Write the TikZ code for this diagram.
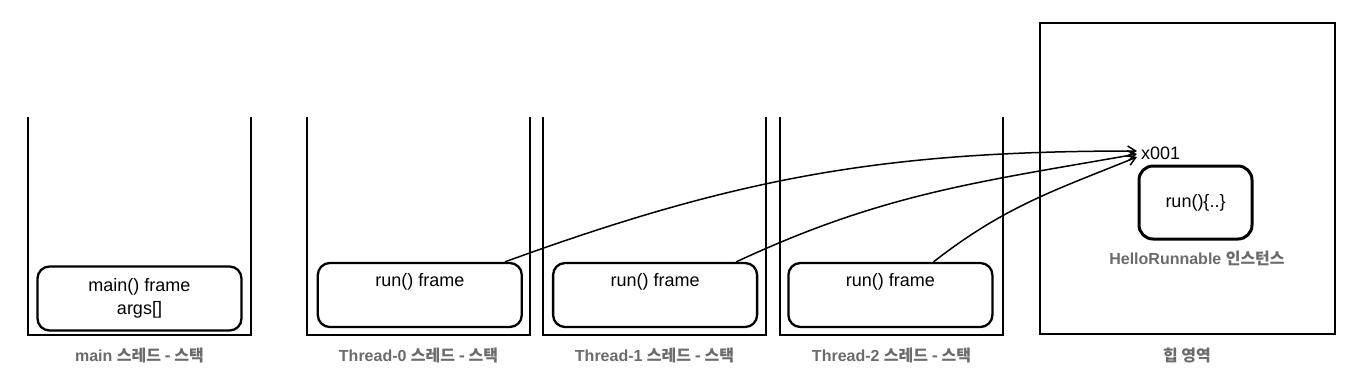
\documentclass[tikz,border=0pt]{standalone}
\usepackage{fontspec}
\setmainfont{Liberation Sans}
\newfontfamily\kr{Noto Sans CJK KR}
\usepackage{xcolor}
\usepackage{tikz}
\usetikzlibrary{arrows.meta, positioning}
\definecolor{labelgray}{HTML}{6B6B6B}

\begin{document}
\begin{tikzpicture}[x=1pt, y=-1pt, node distance=30pt, >=Latex]
    \tikzstyle{stackwall} = [line width=2pt]
    \tikzstyle{stackframe} = [rectangle, draw, line width=2.3pt, rounded corners=12pt, minimum width=204pt, minimum height=64pt, inner sep=0pt, align=center, font=\fontsize{18}{23}\selectfont]
    \tikzstyle{heapbox} = [rectangle, draw, line width=2pt, minimum width=295pt, minimum height=311pt]
    \tikzstyle{methodbox} = [rectangle, draw, line width=3pt, rounded corners=14pt, minimum width=113pt, minimum height=73pt, font=\fontsize{18}{22}\selectfont]
    \tikzstyle{stacklabel} = [text=labelgray, font=\fontsize{16}{20}\selectfont\bfseries]
    \tikzstyle{ref} = [-{Straight Barb[length=8pt, width=10pt]}, line width=1.5pt]
    \useasboundingbox (0,0) rectangle (1370,386);

    % stacks, open at the top
    \foreach \x/\n/\t in {28/mainlbl/main, 307/t0lbl/Thread-0, 543/t1lbl/Thread-1, 780/t2lbl/Thread-2} {
        \draw [stackwall] (\x,117) |- ++(223,218) -- ++(0,-218);
        \node [stacklabel] (\n) at (\x+111.5,356) {\t\ {\kr 스레드 - 스택}};
    }

    \node [stackframe] (mainf) at (139.5,298.5) {main() frame\\args[]};
    \node [stackframe, right=74pt of mainf, yshift=3.5pt] (f0) {run() frame\\\strut};
    \node [stackframe, right=29pt of f0] (f1) {run() frame\\\strut};
    \node [stackframe, right=29pt of f1] (f2) {run() frame\\\strut};

    % heap
    \node [heapbox] (heap) at (1187.5,178.5) {};
    \node [stacklabel] (heaplbl) at (1187,355) {\kr 힙 영역};
    \node [methodbox] (runm) at (1195.5,202.5) {run()\{..\}};
    \node [stacklabel] (inst) at (1197,258) {HelloRunnable {\kr 인스턴스}};
    \node [anchor=west, inner sep=1pt, font=\fontsize{18}{22}\selectfont] (addr) at (1140,153) {x001};

    \draw [ref] ([xshift=-18pt]f0.north east) to[out=20, in=180] ([xshift=-3pt, yshift=2pt]addr.west);
    \draw [ref] ([xshift=-22pt]f1.north east) to[out=25, in=190] ([xshift=-3pt, yshift=-1pt]addr.west);
    \draw [ref] ([xshift=-60pt]f2.north east) to[out=38, in=202] ([xshift=-3pt, yshift=-4pt]addr.west);
\end{tikzpicture}
\end{document}
